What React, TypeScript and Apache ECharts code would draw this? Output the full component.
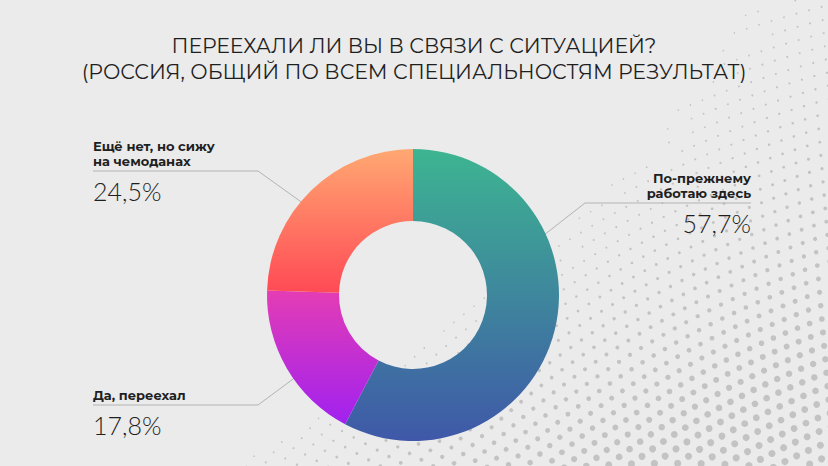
import { useEffect, useRef } from 'react';
import * as echarts from 'echarts';

// данные
const titleLines = ['ПЕРЕЕХАЛИ ЛИ ВЫ В СВЯЗИ С СИТУАЦИЕЙ?', '(РОССИЯ, ОБЩИЙ ПО ВСЕМ СПЕЦИАЛЬНОСТЯМ РЕЗУЛЬТАТ)'];
const categories = ['По-прежнему\nработаю здесь', 'Да, переехал', 'Ещё нет, но сижу\nна чемоданах'];
const values = [57.7, 17.8, 24.5];
const gradients = [
    ['#3db591', '#3f58a8'],
    ['#e43db4', '#a021f0'],
    ['#ffa872', '#ff4a55'],
];

// геометрия
const CX = 413;
const CY = 295;
const R_IN = 74;
const R_OUT = 146;
const NAME_LH = 15;

// куда выводить подписи (угол от верха по часовой, y линии, излом, конец)
const labelSpots = [
    { angle: 66, r: 138, elbowX: 585, lineY: 203, endX: 751, side: 'right' },
    { angle: 235, r: 144, elbowX: 258, lineY: 405, endX: 93, side: 'left' },
    { angle: 310, r: 138, elbowX: 258, lineY: 171, endX: 93, side: 'left' },
];

const fmtPct = (v: number) => v.toFixed(1).replace('.', ',') + '%';

// фоновый узор из точек
const makeDots = () => {
    const dots: any[] = [];
    const ox = 1100;
    const oy = 1100;
    for (let rho = 660; rho < 1220; rho += 13) {
        const step = 13 / rho;
        for (let a = -2.65; a < -1.7; a += step) {
            const x = ox + rho * Math.cos(a);
            const y = oy + rho * Math.sin(a);
            if (x < 0 || x > 834 || y < -4 || y > 470) continue;
            const xb = 700 - 0.4 * y - 0.0014 * y * y;
            const d = x - xb;
            if (d < 0) continue;
            const r = 0.6 + 3.0 * Math.min(1, d / 420) * (0.4 + 0.6 * Math.max(0, y) / 466);
            if (r < 0.75) continue;
            dots.push({
                type: 'circle',
                shape: { cx: x, cy: y, r },
                style: { fill: '#c3c3c3' },
                silent: true,
            });
        }
    }
    return dots;
};

const App: React.FC = () => {
    const chartRef = useRef<HTMLDivElement | null>(null);

    useEffect(() => {
        if (!chartRef.current) return;
        const chart = echarts.init(chartRef.current, null, { renderer: 'svg' });

        const data = values.map((v, i) => ({
            name: categories[i],
            value: v,
            itemStyle: {
                color: new echarts.graphic.LinearGradient(0, 0, 0, 1, [
                    { offset: 0, color: gradients[i][0] },
                    { offset: 1, color: gradients[i][1] },
                ]),
            },
            label: { align: labelSpots[i].side === 'right' ? 'right' : 'left' },
        }));

        chart.setOption({
            animation: false,
            backgroundColor: '#ebebeb',
            title: {
                text: titleLines.join('\n'),
                left: 'center',
                top: 27,
                textStyle: {
                    fontFamily: 'Montserrat, Inter, sans-serif',
                    fontWeight: 400,
                    fontSize: 20.5,
                    lineHeight: 26,
                    color: '#1f1f1f',
                },
            },
            graphic: [
                {
                    type: 'group',
                    z: -10,
                    silent: true,
                    children: makeDots(),
                },
            ],
            series: [
                {
                    type: 'pie',
                    center: [CX, CY],
                    radius: [R_IN, R_OUT],
                    startAngle: 90,
                    clockwise: true,
                    avoidLabelOverlap: false,
                    emphasis: { disabled: true },
                    data,
                    label: {
                        show: true,
                        position: 'outside',
                        alignTo: 'edge',
                        edgeDistance: 93,
                        formatter: (p: any) =>
                            String(p.name)
                                .split('\n')
                                .map((l: string) => `{name|${l}}`)
                                .join('\n') + `\n{pct|${fmtPct(p.value)}}`,
                        rich: {
                            name: {
                                fontFamily: 'Montserrat, Inter, sans-serif',
                                fontWeight: 700,
                                fontSize: 13,
                                lineHeight: NAME_LH,
                                color: '#1f1f1f',
                            },
                            pct: {
                                fontFamily: 'Lato, sans-serif',
                                fontWeight: 300,
                                fontSize: 25,
                                lineHeight: 46,
                                color: '#1f1f1f',
                            },
                        },
                    },
                    labelLine: {
                        show: true,
                        lineStyle: { color: '#b3b3b3', width: 1 },
                    },
                    labelLayout: (params: any) => {
                        const spot = labelSpots[params.dataIndex];
                        const a = (spot.angle * Math.PI) / 180;
                        const sx = CX + spot.r * Math.sin(a);
                        const sy = CY - spot.r * Math.cos(a);
                        const nLines = categories[params.dataIndex].split('\n').length;
                        return {
                            x: spot.endX,
                            y: spot.lineY - nLines * NAME_LH - 3,
                            align: spot.side === 'right' ? 'right' : 'left',
                            verticalAlign: 'top',
                            labelLinePoints: [
                                [sx, sy],
                                [spot.elbowX, spot.lineY],
                                [spot.endX, spot.lineY],
                            ],
                        };
                    },
                },
            ],
        });

        return () => {
            chart.dispose();
        };
    }, []);

    return (
        <div
            ref={chartRef}
            style={{ position: 'absolute', left: 0, top: 0, width: 828, height: 466 }}
        />
    );
};

export default App;
